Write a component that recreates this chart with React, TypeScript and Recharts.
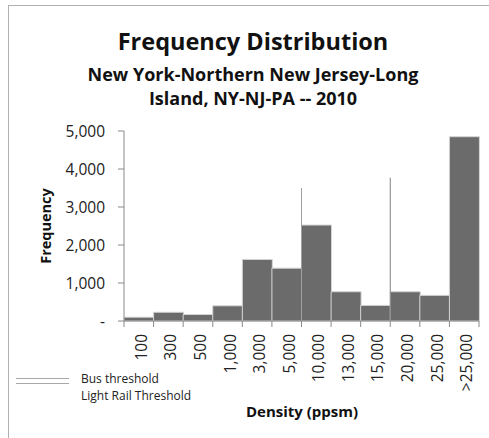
import React from 'react';
import { BarChart, Bar, XAxis, YAxis, ReferenceLine } from 'recharts';

const categories = ['100', '300', '500', '1,000', '3,000', '5,000', '10,000', '13,000', '15,000', '20,000', '25,000', '>25,000'];
const frequency = [100, 230, 170, 400, 1620, 1390, 2525, 770, 410, 770, 675, 4850];
const yTicks = [0, 1000, 2000, 3000, 4000, 5000];
const busThreshold = { category: '10,000', height: 3500 };
const lightRailThreshold = { category: '20,000', height: 3770 };

const data = categories.map((c, i) => ({ name: c, value: frequency[i] }));

const FONT = '"Open Sans", sans-serif';

const XTick = (props: any) => {
  const { x, y, payload, index } = props;
  const off = payload && payload.offset != null ? payload.offset : 0;
  return (
    <g>
      <line x1={x - off} x2={x - off} y1={y} y2={y + 6} stroke="#8a8a8a" strokeWidth={1} />
      {index === categories.length - 1 && (
        <line x1={x + off} x2={x + off} y1={y} y2={y + 6} stroke="#8a8a8a" strokeWidth={1} />
      )}
      <text
        transform={`translate(${x + 2},${y + 13}) rotate(-90)`}
        textAnchor="end"
        dominantBaseline="central"
        fontSize={15.5}
        fontFamily={FONT}
        fill="#222"
      >
        {payload.value}
      </text>
    </g>
  );
};

const fmtY = (v: number) => (v === 0 ? '-' : v.toLocaleString('en-US'));

export default function App() {
  return (
    <div style={{ position: 'absolute', left: 0, top: 0, width: 489, height: 438, background: '#fff', overflow: 'hidden', fontFamily: FONT }}>
      <div style={{ position: 'absolute', left: 8, top: 5, width: 600, height: 600, border: '1px solid #b0b0b0' }} />
      <div style={{ position: 'absolute', left: 0, width: 506, top: 41, transform: 'translateY(-50%)', textAlign: 'center', fontSize: 23.5, fontWeight: 700, color: '#111', lineHeight: '30px', whiteSpace: 'nowrap' }}>
        Frequency Distribution
      </div>
      <div style={{ position: 'absolute', left: 0, width: 506, top: 74, transform: 'translateY(-50%)', textAlign: 'center', fontSize: 18, fontWeight: 700, color: '#111', lineHeight: '24px', whiteSpace: 'nowrap' }}>
        New York-Northern New Jersey-Long
      </div>
      <div style={{ position: 'absolute', left: 0, width: 506, top: 98, transform: 'translateY(-50%)', textAlign: 'center', fontSize: 18, fontWeight: 700, color: '#111', lineHeight: '24px', whiteSpace: 'nowrap' }}>
        Island, NY-NJ-PA -- 2010
      </div>
      <div style={{ position: 'absolute', left: 0, top: 0 }}>
        <BarChart width={489} height={438} data={data} margin={{ top: 131, right: 10, bottom: 0, left: 0 }} barCategoryGap={0}>
          <XAxis
            dataKey="name"
            interval={0}
            tickLine={false}
            tickSize={0}
            tickMargin={0}
            axisLine={{ stroke: '#8a8a8a' }}
            tick={<XTick />}
            height={117}
          />
          <YAxis
            width={124}
            domain={[0, 5000]}
            ticks={yTicks}
            tickFormatter={fmtY}
            tickSize={6}
            tickMargin={13}
            axisLine={{ stroke: '#8a8a8a' }}
            tickLine={{ stroke: '#8a8a8a' }}
            tick={{ fontSize: 15.5, fontFamily: FONT, fill: '#222' }}
            interval={0}
          />
          <Bar dataKey="value" fill="#6b6b6b" stroke="#d4d4d4" strokeWidth={1} isAnimationActive={false} />
          <ReferenceLine
            segment={[{ x: busThreshold.category, y: 0 }, { x: busThreshold.category, y: busThreshold.height }]}
            position="start"
            stroke="#a0a0a0"
            strokeWidth={1}
          />
          <ReferenceLine
            segment={[{ x: lightRailThreshold.category, y: 0 }, { x: lightRailThreshold.category, y: lightRailThreshold.height }]}
            position="start"
            stroke="#808080"
            strokeWidth={1}
          />
        </BarChart>
      </div>
      <div style={{ position: 'absolute', left: 45, top: 226, transform: 'translate(-50%,-50%) rotate(-90deg)', fontSize: 14.5, fontWeight: 700, color: '#111', whiteSpace: 'nowrap' }}>
        Frequency
      </div>
      <div style={{ position: 'absolute', left: 302, top: 411, transform: 'translate(-50%,-50%)', fontSize: 15, fontWeight: 700, color: '#111', whiteSpace: 'nowrap' }}>
        Density (ppsm)
      </div>
      <div style={{ position: 'absolute', left: 16, top: 378, width: 53, height: 0, borderTop: '1px solid #a8a8a8' }} />
      <div style={{ position: 'absolute', left: 16, top: 383, width: 53, height: 0, borderTop: '1px solid #a8a8a8' }} />
      <div style={{ position: 'absolute', left: 81, top: 371, fontSize: 12, color: '#222', whiteSpace: 'nowrap', lineHeight: '16px' }}>
        Bus threshold
      </div>
      <div style={{ position: 'absolute', left: 81, top: 388, fontSize: 12, color: '#222', whiteSpace: 'nowrap', lineHeight: '16px' }}>
        Light Rail Threshold
      </div>
    </div>
  );
}
